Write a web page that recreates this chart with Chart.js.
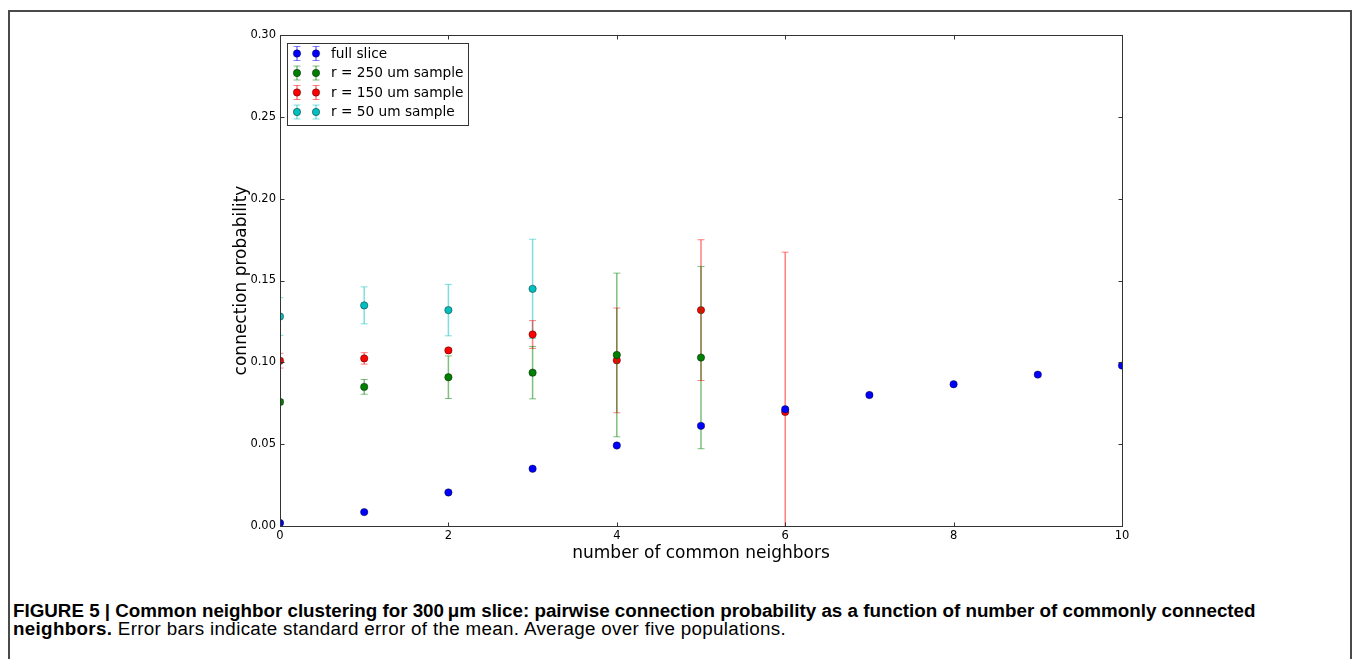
<!DOCTYPE html>
<html><head><meta charset="utf-8">
<script src="https://cdn.jsdelivr.net/npm/chart.js@4.4.1/dist/chart.umd.min.js"></script>
<style>
html,body{margin:0;padding:0;background:#fff;width:1357px;height:659px;overflow:hidden;}
#frame{position:absolute;left:8px;top:10px;width:1344px;height:720px;border:2px solid #4a4a4a;box-sizing:border-box;}
#wrap{position:absolute;left:0;top:0;width:1357px;height:600px;}
#cap{position:absolute;left:13px;top:602px;font-family:"Liberation Sans Narrow","Liberation Sans",Arial,sans-serif;font-size:14px;line-height:17.5px;color:#000;white-space:nowrap;}
#l1,#l2{display:inline-block;}
</style></head><body>
<div id="frame"></div>
<div id="wrap"><canvas id="c" width="1357" height="600"></canvas></div>
<div id="cap"><span id="l1"><b>FIGURE 5 | Common neighbor clustering for 300&#8201;μm slice: pairwise connection probability as a function of number of commonly connected</b></span><br><span id="l2"><b>neighbors.</b> Error bars indicate standard error of the mean. Average over five populations.</span></div>
<script>
// ---- data ----
const xFull = [0, 1, 2, 3, 4, 5, 6, 7, 8, 9, 10];
const fullSlice = [0.0018, 0.0085, 0.0205, 0.035, 0.0492, 0.0612, 0.0713, 0.080, 0.0866, 0.0925, 0.098];
const fullSliceErr = [0.0005, 0.0005, 0.0006, 0.0007, 0.0008, 0.001, 0.001, 0.001, 0.001, 0.001, 0.001];

const x250 = [0, 1, 2, 3, 4, 5];
const r250 = [0.0758, 0.085, 0.0909, 0.0937, 0.1045, 0.1029];
const r250Err = [0.0015, 0.0045, 0.013, 0.016, 0.05, 0.0557];

const x150 = [0, 1, 2, 3, 4, 5, 6];
const r150 = [0.101, 0.1024, 0.1073, 0.117, 0.1012, 0.1319, 0.0697];
const r150Err = [0.0045, 0.0035, 0.001, 0.0085, 0.032, 0.043, 0.0976];

const x50 = [0, 1, 2, 3];
const r50 = [0.128, 0.1348, 0.1319, 0.1449];
const r50Err = [0.0115, 0.0113, 0.0157, 0.0303];

const seriesLabels = ['full slice', 'r = 250 um sample', 'r = 150 um sample', 'r = 50 um sample'];
const xTickValues = [0, 2, 4, 6, 8, 10];
const xTickLabels = ['0', '2', '4', '6', '8', '10'];
const yTickValues = [0, 0.05, 0.10, 0.15, 0.20, 0.25, 0.30];
const yTickLabels = ['0.00', '0.05', '0.10', '0.15', '0.20', '0.25', '0.30'];
const xTitle = 'number of common neighbors';
const yTitle = 'connection probability';

// ---- styles ----
const seriesColors = ['#0000ff', '#008000', '#ff0000', '#00bfbf'];
const barColors = ['rgba(0,0,255,0.5)', 'rgba(0,128,0,0.5)', 'rgba(255,0,0,0.5)', 'rgba(0,191,191,0.5)'];

function mk(i, xs, ys, es) {
  return {
    label: seriesLabels[i],
    data: xs.map((x, j) => ({x: x, y: ys[j]})),
    errors: es,
    barColor: barColors[i],
    backgroundColor: seriesColors[i],
    borderColor: 'rgba(0,0,0,0.8)',
    borderWidth: 0.5,
    pointRadius: 3.7,
    pointHoverRadius: 3.7,
    showLine: false,
    clip: 0
  };
}

const errorBarPlugin = {
  id: 'errbars',
  beforeDatasetDraw(chart, args) {
    const ds = chart.data.datasets[args.index];
    const {ctx, chartArea: a} = chart;
    const xs = chart.scales.x, ys = chart.scales.y;
    ctx.save();
    ctx.beginPath();
    ctx.rect(a.left, a.top, a.right - a.left, a.bottom - a.top);
    ctx.clip();
    ctx.strokeStyle = ds.barColor;
    ds.data.forEach((p, j) => {
      const e = ds.errors[j];
      const px = xs.getPixelForValue(p.x);
      const y1 = ys.getPixelForValue(p.y + e), y2 = ys.getPixelForValue(p.y - e);
      ctx.lineWidth = 1.5;
      ctx.beginPath(); ctx.moveTo(px, y1); ctx.lineTo(px, y2); ctx.stroke();
      ctx.lineWidth = 1;
      ctx.beginPath();
      ctx.moveTo(px - 3.5, y1); ctx.lineTo(px + 3.5, y1);
      ctx.moveTo(px - 3.5, y2); ctx.lineTo(px + 3.5, y2);
      ctx.stroke();
    });
    ctx.restore();
  }
};

const framePlugin = {
  id: 'frame',
  afterDatasetsDraw(chart) {
    const {ctx, chartArea: a} = chart;
    const xs = chart.scales.x, ys = chart.scales.y;
    ctx.save();
    ctx.strokeStyle = '#333';
    ctx.lineWidth = 1;
    const L = Math.round(a.left) + 0.5, R = Math.round(a.right) + 0.5, T = Math.round(a.top) + 0.5, B = Math.round(a.bottom) + 0.5;
    ctx.strokeRect(L, T, R - L, B - T);
    ctx.beginPath();
    const tl = 4;
    xTickValues.forEach(v => {
      const px = Math.round(xs.getPixelForValue(v)) + 0.5;
      ctx.moveTo(px, B); ctx.lineTo(px, B - tl);
      ctx.moveTo(px, T); ctx.lineTo(px, T + tl);
    });
    yTickValues.forEach(v => {
      const py = Math.round(ys.getPixelForValue(v)) + 0.5;
      ctx.moveTo(L, py); ctx.lineTo(L + tl, py);
      ctx.moveTo(R, py); ctx.lineTo(R - tl, py);
    });
    ctx.stroke();
    ctx.restore();
  }
};

const legendPlugin = {
  id: 'mplLegend',
  afterDraw(chart) {
    const {ctx, chartArea: a} = chart;
    const bx = a.left + 7, by = a.top + 8, bw = 181, bh = 82;
    ctx.save();
    ctx.fillStyle = '#fff';
    ctx.fillRect(bx, by, bw, bh);
    ctx.strokeStyle = '#333';
    ctx.lineWidth = 1;
    ctx.strokeRect(Math.round(bx) + 0.5, Math.round(by) + 0.5, bw, bh);
    ctx.font = '13.7px "DejaVu Sans"';
    ctx.textBaseline = 'middle';
    chart.data.datasets.forEach((ds, i) => {
      const cy = by + 10.5 + i * 19.5;
      [bx + 10, bx + 29].forEach(mx => {
        ctx.strokeStyle = ds.barColor;
        ctx.lineWidth = 1.5;
        ctx.beginPath(); ctx.moveTo(mx, cy - 7); ctx.lineTo(mx, cy + 7); ctx.stroke();
        ctx.lineWidth = 1;
        ctx.beginPath();
        ctx.moveTo(mx - 3.5, cy - 7); ctx.lineTo(mx + 3.5, cy - 7);
        ctx.moveTo(mx - 3.5, cy + 7); ctx.lineTo(mx + 3.5, cy + 7);
        ctx.stroke();
        ctx.beginPath();
        ctx.arc(mx, cy, 3.7, 0, Math.PI * 2);
        ctx.fillStyle = ds.backgroundColor;
        ctx.fill();
        ctx.strokeStyle = 'rgba(0,0,0,0.8)';
        ctx.lineWidth = 0.5;
        ctx.stroke();
      });
      ctx.fillStyle = '#000';
      ctx.fillText(ds.label, bx + 44, cy + 0.5);
    });
    ctx.restore();
  }
};

Chart.defaults.font.family = '"DejaVu Sans", sans-serif';
Chart.defaults.color = '#000';

new Chart(document.getElementById('c'), {
  type: 'scatter',
  data: {
    datasets: [
      mk(0, xFull, fullSlice, fullSliceErr),
      mk(1, x250, r250, r250Err),
      mk(2, x150, r150, r150Err),
      mk(3, x50, r50, r50Err)
    ]
  },
  options: {
    responsive: false,
    animation: false,
    events: [],
    layout: {padding: {left: 220, right: 235, top: 35, bottom: 34}},
    plugins: {legend: {display: false}, tooltip: {enabled: false}},
    scales: {
      x: {
        type: 'linear', min: 0, max: 10,
        afterBuildTicks: s => { s.ticks = xTickValues.map(v => ({value: v})); },
        afterFit: s => { s.height = 40; },
        grid: {display: false, drawTicks: false},
        border: {display: false},
        ticks: {padding: 3, font: {size: 11.5}, callback: (v) => xTickLabels[xTickValues.indexOf(v)]},
        title: {display: true, text: xTitle, font: {size: 17}, padding: {top: 0, bottom: 2}}
      },
      y: {
        type: 'linear', min: 0, max: 0.30,
        afterBuildTicks: s => { s.ticks = yTickValues.map(v => ({value: v})); },
        afterFit: s => { s.width = 60; },
        grid: {display: false, drawTicks: false},
        border: {display: false},
        ticks: {padding: 4, font: {size: 11.5}, callback: (v) => { const k = yTickValues.findIndex(t => Math.abs(t - v) < 1e-9); return yTickLabels[k]; }},
        title: {display: true, text: yTitle, font: {size: 17}, padding: {top: 11, bottom: 0}}
      }
    }
  },
  plugins: [errorBarPlugin, framePlugin, legendPlugin]
});

// fit caption lines to reference widths
(function () {
  const cap = document.getElementById('cap');
  const l1 = document.getElementById('l1');
  const l2 = document.getElementById('l2');
  const w = l1.getBoundingClientRect().width;
  cap.style.fontSize = (14 * 1243 / w).toFixed(2) + 'px';
  const w2 = l2.getBoundingClientRect().width;
  const n = l2.textContent.length;
  l2.style.letterSpacing = ((773 - w2) / n).toFixed(3) + 'px';
})();
</script>
</body></html>
